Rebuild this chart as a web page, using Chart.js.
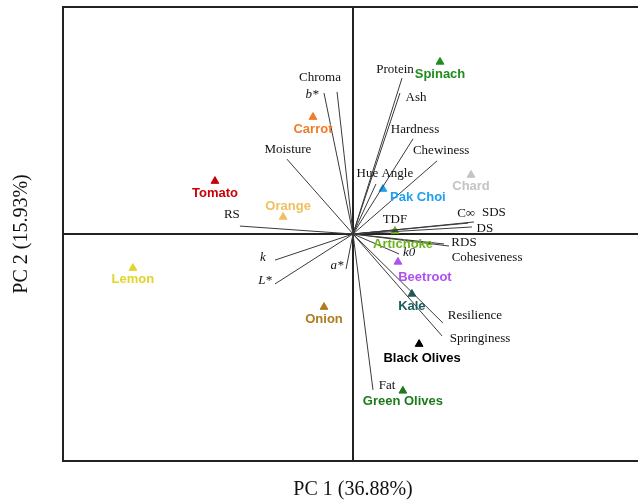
<!DOCTYPE html>
<html>
<head>
<meta charset="utf-8">
<script src="https://cdn.jsdelivr.net/npm/chart.js@4.4.0/dist/chart.umd.min.js"></script>
<style>
  html, body { margin: 0; padding: 0; background: #fff; overflow: hidden; }
  #wrap { width: 660px; height: 504px; }
</style>
</head>
<body>
<div id="wrap"><canvas id="pca" width="660" height="504"></canvas></div>
<script>
// sample scores (PC1, PC2)
var sampleNames  = ['Spinach','Carrot','Tomato','Orange','Chard','Pak Choi','Artichoke','Beetroot','Kale','Black Olives','Green Olives','Lemon','Onion'];
var sampleX      = [0.300, -0.138, -0.476, -0.241, 0.407, 0.103, 0.145, 0.155, 0.203, 0.228, 0.172, -0.759, -0.100];
var sampleY      = [0.758, 0.515, 0.233, 0.075, 0.260, 0.198, 0.013, -0.123, -0.264, -0.485, -0.691, -0.150, -0.322];
var sampleColors = ['#1e8c1e','#f07c28','#c8000a','#f0c060','#c4c4c4','#1ea0f0','#6cb41e','#b050f0','#1a5e60','#000000','#1c7a1c','#e2d42a','#b07c1c'];

// variable loadings (PC1, PC2)
var loadNames = ['Chroma','b*','Protein','Ash','Hardness','Chewiness','Moisture','Hue Angle','TDF','C\u221e','SDS','DS','RDS','Cohesiveness','k0','Resilience','Springiness','Fat','RS','k','L*','a*'];
var loadX = [-0.055, -0.100, 0.169, 0.162, 0.207, 0.290, -0.228, 0.079, 0.155, 0.397, 0.417, 0.410, 0.331, 0.314, 0.159, 0.310, 0.307, 0.069, -0.390, -0.269, -0.269, -0.024];
var loadY = [0.626, 0.621, 0.687, 0.621, 0.419, 0.322, 0.330, 0.220, 0.018, 0.048, 0.053, 0.031, -0.053, -0.044, -0.088, -0.392, -0.449, -0.687, 0.035, -0.115, -0.220, -0.154];
var italicLoads = ['b*','k0','k','L*','a*'];

// label offsets in pixels
var sampleLabelOffset = [[0,12],[0,12],[0,12],[5,-11],[0,11],[35,8],[8,13],[27,16],[0,12],[3,14],[0,11],[0,11],[0,12]];
var loadLabelOffset = [[-17,-14],[-12,2],[-7,-8],[16,5],[2,-9],[4,-10],[1,-10],[9,-10],[-3,-10],[-2,-10],[20,-9],[13,2],[15,-3],[43,14],[10,-1],[32,-7],[38,3],[14,-4],[-8,-11],[-12,-3],[-10,-3],[-9,-3]];

var datasets = loadNames.map(function(n, i) {
  return {
    label: n,
    data: [{x: 0, y: 0}, {x: loadX[i], y: loadY[i]}],
    showLine: true,
    borderColor: '#3a3a3a',
    borderWidth: 1,
    pointRadius: 0
  };
});
datasets.push({
  label: 'samples',
  data: sampleNames.map(function(n, i) { return {x: sampleX[i], y: sampleY[i]}; }),
  pointStyle: 'triangle',
  pointRadius: 4.5,
  pointBackgroundColor: sampleColors,
  pointBorderColor: sampleColors,
  showLine: false
});

const labelsPlugin = {
  id: 'biplotText',
  afterDraw(chart) {
    const ctx = chart.ctx, xs = chart.scales.x, ys = chart.scales.y, a = chart.chartArea;
    ctx.save();
    // top frame
    ctx.strokeStyle = '#222';
    ctx.lineWidth = 2;
    ctx.beginPath();
    ctx.moveTo(a.left, a.top);
    ctx.lineTo(a.right, a.top);
    ctx.lineTo(a.right, a.bottom);
    ctx.stroke();

    ctx.textAlign = 'center';
    ctx.textBaseline = 'middle';
    loadNames.forEach(function(n, i) {
      var px = xs.getPixelForValue(loadX[i]) + loadLabelOffset[i][0];
      var py = ys.getPixelForValue(loadY[i]) + loadLabelOffset[i][1];
      ctx.font = (italicLoads.indexOf(n) >= 0 ? 'italic ' : '') + '13px "Liberation Serif"';
      ctx.fillStyle = '#111';
      ctx.fillText(n, px, py);
    });
    ctx.font = 'bold 13px "Liberation Sans"';
    sampleNames.forEach(function(n, i) {
      var px = xs.getPixelForValue(sampleX[i]) + sampleLabelOffset[i][0];
      var py = ys.getPixelForValue(sampleY[i]) + sampleLabelOffset[i][1];
      ctx.fillStyle = sampleColors[i];
      ctx.fillText(n, px, py);
    });

    // axis titles
    ctx.fillStyle = '#111';
    ctx.font = '20px "Liberation Serif"';
    ctx.fillText('PC 1 (36.88%)', xs.getPixelForValue(0), 490);
    ctx.translate(22, ys.getPixelForValue(0));
    ctx.rotate(-Math.PI / 2);
    ctx.fillText('PC 2 (15.93%)', 0, 0);
    ctx.restore();
  }
};

function axisGrid(ctx) {
  return ctx.tick && ctx.tick.value === 0 ? '#222' : 'rgba(0,0,0,0)';
}

new Chart(document.getElementById('pca'), {
  type: 'scatter',
  data: { datasets: datasets },
  options: {
    responsive: false,
    animation: false,
    layout: { padding: { left: 63, top: 7, right: 17, bottom: 43 } },
    plugins: { legend: { display: false }, tooltip: { enabled: false } },
    scales: {
      x: {
        min: -1, max: 1,
        ticks: { display: false, stepSize: 1 },
        grid: { color: axisGrid, lineWidth: 2, drawTicks: false },
        border: { display: true, color: '#222', width: 2 }
      },
      y: {
        min: -1, max: 1,
        ticks: { display: false, stepSize: 1 },
        grid: { color: axisGrid, lineWidth: 2, drawTicks: false },
        border: { display: true, color: '#222', width: 2 }
      }
    }
  },
  plugins: [labelsPlugin]
});
</script>
</body>
</html>
